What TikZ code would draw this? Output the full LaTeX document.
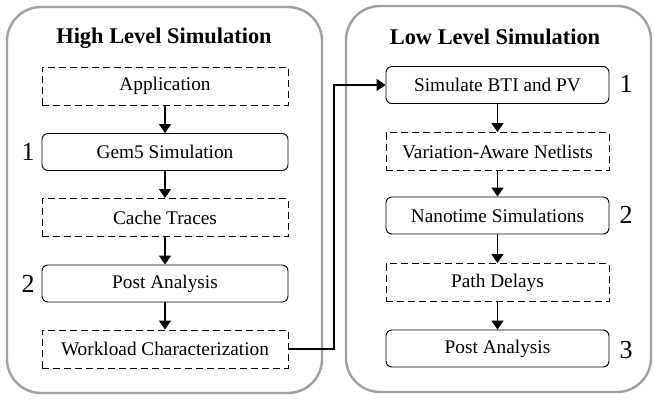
\documentclass[tikz,border=0pt]{standalone}
\usepackage{fontspec}
\setmainfont{Liberation Serif}
\usetikzlibrary{arrows.meta}

\definecolor{panelgray}{RGB}{160,160,160}
\tikzset{
	panel/.style={draw=panelgray, line width=2.4pt, rounded corners=34pt},
	stage/.style={draw, line width=0.9pt, rounded corners=6pt, minimum height=37pt, inner sep=0pt, font=\fontsize{19.3}{22}\selectfont},
	data/.style={draw, line width=0.9pt, dash pattern=on 7pt off 4pt, minimum height=38pt, inner sep=0pt, font=\fontsize{19.3}{22}\selectfont},
	flow/.style={line width=1.4pt, -{Triangle[length=9pt, width=12pt]}},
	title/.style={font=\fontsize{22.4}{26}\selectfont\bfseries},
	stepnum/.style={font=\fontsize{26}{30}\selectfont}
}

\begin{document}
\begin{tikzpicture}[x=1pt, y=-1pt]
	\useasboundingbox (0,0) rectangle (654,400);

	\draw [panel] (7,7) rectangle (322,393);
	\draw [panel] (346,6) rectangle (651,392);

	\node [title] (hightitle) at (164,38) {High Level Simulation};
	\node [title] (lowtitle) at (495,37) {Low Level Simulation};

	% high level flow
	\node [data, minimum width=246pt] (app) at (165,86) {Application};
	\node [stage, minimum width=246pt] (gem) at (165,152) {Gem5 Simulation};
	\node [data, minimum width=246pt] (traces) at (165,217.5) {Cache Traces};
	\node [stage, minimum width=246pt] (hpost) at (165,283.5) {Post Analysis};
	\node [data, minimum width=246pt] (work) at (165,349) {Workload Characterization};

	\node [stepnum] (hone) at (28,152) {1};
	\node [stepnum] (htwo) at (28,284) {2};

	% low level flow
	\node [stage, minimum width=223pt] (bti) at (497.5,85) {Simulate BTI and PV};
	\node [data, minimum width=223pt] (netlists) at (497.5,151.5) {Variation-Aware Netlists};
	\node [stage, minimum width=223pt] (nano) at (497.5,215.5) {Nanotime Simulations};
	\node [data, minimum width=223pt] (delays) at (497.5,282.5) {Path Delays};
	\node [stage, minimum width=223pt] (lpost) at (497.5,348.5) {Post Analysis};

	\node [stepnum] (lone) at (626,84) {1};
	\node [stepnum] (ltwo) at (626,215) {2};
	\node [stepnum] (lthree) at (626,350) {3};

	\draw [flow] (app) -- (gem);
	\draw [flow] (gem) -- (traces);
	\draw [flow] (traces) -- (hpost);
	\draw [flow] (hpost) -- (work);

	\draw [flow] (bti) -- (netlists);
	\draw [flow] (netlists) -- (nano);
	\draw [flow] (nano) -- (delays);
	\draw [flow] (delays) -- (lpost);

	\coordinate (bend) at (334,0);
	\draw [flow] (work.east) -- (work.east -| bend) -- (bti.west -| bend) -- (bti.west);
\end{tikzpicture}
\end{document}
